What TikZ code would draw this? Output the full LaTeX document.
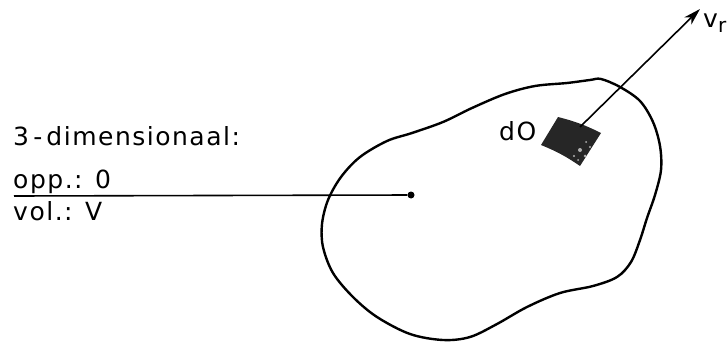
\documentclass[tikz,border=0pt]{standalone}
\usepackage{fontspec}
\setmainfont{DejaVu Sans}[LetterSpace=6]
\usetikzlibrary{arrows.meta}
\begin{document}
\begin{tikzpicture}[x=1pt,y=-1pt,
  lbl/.style={anchor=base west,inner sep=0pt,font=\fontsize{25}{28}\selectfont},
  outline/.style={line width=2.4pt,line join=round},
  conn/.style={line width=1.6pt}]
\useasboundingbox (0,0) rectangle (727,342);
% body outline
\draw[outline] plot[smooth cycle,tension=0.55] coordinates {
 (601,79) (620,87) (640,101) (653,122) (660,146) (661,170) (655,195)
 (647,218) (640,240) (631,262) (617,277) (593,286) (560,293)
 (527,307) (497,324) (470,337) (443,340) (410,334) (377,317)
 (353,297) (333,273) (323,247) (322,224) (328,200) (341,177)
 (360,157) (387,141) (412,133) (443,122) (472,108) (505,94)
 (535,86) (567,83) (590,80)};
% texts
\node[lbl] (t3) at (13,145) {3\,-\,dimensionaal:};
\node[lbl] (topp) at (13,188) {opp.: 0};
\node[lbl] (tvol) at (13,220) {vol.: V};
\node[lbl] (tdo) at (499,140) {dO};
\node[lbl] (tv) at (703,28) {v\raisebox{-5pt}{\fontsize{20}{22}\selectfont r}};
% centre point and line
\node[circle,fill,inner sep=0pt,minimum size=7pt] (c) at (411,195) {};
\coordinate (l) at (14,196);
\draw[conn] (l) -- (c);
% surface element
\fill[black!85] (558,117) to[bend left=6] (601,133) -- (580,166) to[bend right=6] (541,145) -- cycle;
\fill[white!70!black] (580,150) circle (2pt) (585,156) circle (1.5pt) (574,156) circle (1.2pt) (590,147) circle (1.2pt) (578,160) circle (1pt) (586,142) circle (1pt);
\coordinate (p) at (580,127);
\coordinate (tip) at (700,9);
\draw[conn,-{Stealth[length=17pt,width=10pt,inset=5pt]}] (p) -- (tip);
\end{tikzpicture}
\end{document}
